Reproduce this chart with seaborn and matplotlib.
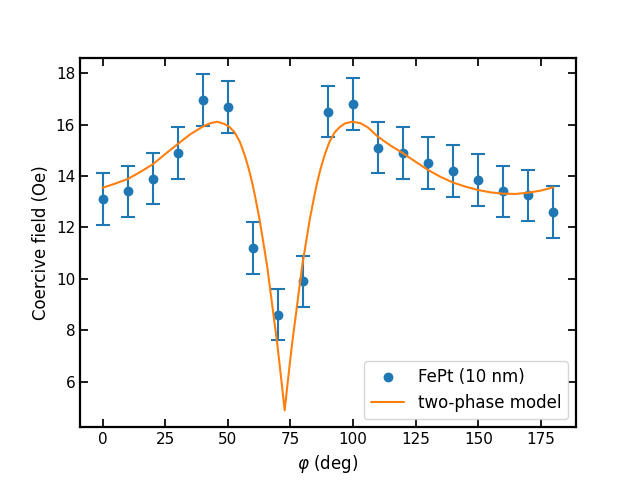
import numpy as np
import pandas as pd
import matplotlib
matplotlib.use("Agg")
import matplotlib.pyplot as plt
import seaborn as sns

# Measured data
phi = [0, 10, 20, 30, 40, 50, 60, 70, 80, 90, 100, 110, 120, 130, 140, 150, 160, 170, 180]
hc = [13.1, 13.4, 13.9, 14.9, 16.95, 16.68, 11.2, 8.6, 9.9, 16.5, 16.8, 15.1, 14.9, 14.5,
      14.2, 13.85, 13.4, 13.25, 12.6]
hc_err = [1.0] * 19

# Model curve
model_phi = [0, 5, 10, 15, 20, 25, 30, 35, 40, 43, 45.7, 48.7, 50.7, 52.7, 54.7, 55.7, 56.7,
             57.7, 58.7, 59.7, 60.7, 61.7, 62.7, 63.7, 64.7, 65.7, 66.7, 67.7, 68.7, 69.7,
             70.7, 71.7, 72.7, 73.7, 74.7, 75.7, 76.7, 77.7, 78.7, 79.7, 80.7, 81.7, 82.7,
             83.7, 84.7, 85.7, 86.7, 87.7, 88.7, 89.7, 90.7, 92.7, 94.7, 96.7, 99.7, 103,
             106, 110, 115, 120, 125, 130, 135, 140, 145, 150, 155, 160, 165, 170, 175, 180]
model_hc = [13.54, 13.70, 13.88, 14.15, 14.45, 14.85, 15.24, 15.62, 15.92, 16.05, 16.11,
            16.02, 15.9, 15.7, 15.35, 15.1, 14.82, 14.5, 14.15, 13.75, 13.3, 12.8, 12.3,
            11.7, 11.1, 10.5, 9.75, 9.0, 8.25, 7.5, 6.65, 5.78, 4.88, 5.78, 6.65, 7.5, 8.25,
            9.0, 9.75, 10.5, 11.1, 11.7, 12.3, 12.8, 13.3, 13.75, 14.15, 14.5, 14.82, 15.1,
            15.35, 15.7, 15.9, 16.04, 16.11, 16.05, 15.88, 15.52, 15.18, 14.88, 14.55, 14.23,
            13.96, 13.74, 13.58, 13.45, 13.36, 13.31, 13.30, 13.35, 13.43, 13.56]

sns.set_theme(style="ticks", context="notebook")
plt.rcParams.update({
    "xtick.direction": "in", "ytick.direction": "in",
    "xtick.top": True, "ytick.right": True,
    "axes.linewidth": 1.6,
    "axes.edgecolor": "black", "text.color": "black", "axes.labelcolor": "black",
    "xtick.color": "black", "ytick.color": "black",
})

blue = "#1f77b4"
orange = "#ff7f0e"

fig, ax = plt.subplots(figsize=(6.4, 4.8), dpi=100)
df = pd.DataFrame({"phi": phi, "hc": hc, "err": hc_err})
mdf = pd.DataFrame({"phi": model_phi, "hc": model_hc})

ax.errorbar(df["phi"], df["hc"], yerr=df["err"], fmt="none", ecolor=blue,
            elinewidth=1.5, capsize=5, capthick=1.5, zorder=2)
sns.scatterplot(data=df, x="phi", y="hc", ax=ax, color=blue, s=50, linewidth=0,
                label="FePt (10 nm)", zorder=3)
sns.lineplot(data=mdf, x="phi", y="hc", ax=ax, color=orange, linewidth=1.5,
             label="two-phase model", sort=False, zorder=4)

ax.set_xlabel(r"$\varphi$ (deg)")
ax.set_ylabel("Coercive field (Oe)")
ax.set_xticks([0, 25, 50, 75, 100, 125, 150, 175])
ax.set_yticks([6, 8, 10, 12, 14, 16, 18])
ax.legend(loc="lower right", fontsize=12)
fig.savefig("out.png", dpi=100)
